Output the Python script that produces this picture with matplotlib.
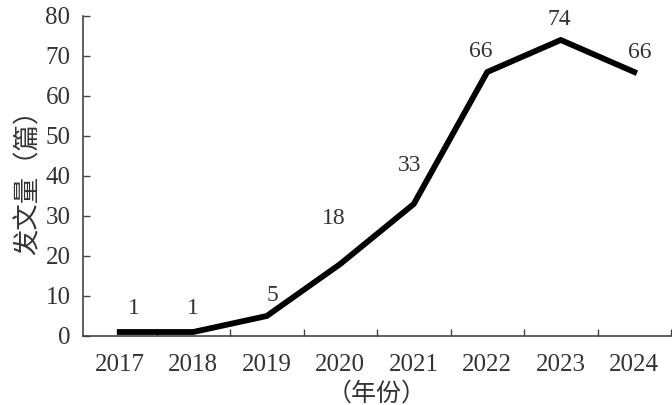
import numpy as np
import matplotlib.pyplot as plt

# data
years  = ["2017", "2018", "2019", "2020", "2021", "2022", "2023", "2024"]
counts = [1, 1, 5, 18, 33, 66, 74, 66]

# label offsets (points), purely placement
lab_dx = [10, 0, 4, -5, -3, -5, -1, 4]
lab_dy = [17, 17, 15, 33, 28, 15, 15, 14]

plt.rcParams['font.family'] = ['Liberation Serif', 'Noto Sans CJK SC']
txtc = '#333333'

fig = plt.figure(figsize=(6.72, 4.05), dpi=100)
ax = fig.add_axes([83/672, 69/405, 588/672, 320/405])

x = np.arange(len(years))
ax.plot(x, counts, color='black', lw=4.2, solid_joinstyle='miter')

for i in range(len(x)):
    ax.annotate(str(counts[i]), (x[i], counts[i]), xytext=(lab_dx[i], lab_dy[i]),
                textcoords='offset points', ha='center', va='center',
                fontsize=17, color=txtc)

ax.set_xlim(-0.5, len(years) - 0.5)
ax.set_ylim(0, 80)
ax.set_yticks(range(0, 81, 10))

# category ticks between the categories, labels in the middle
ax.set_xticks(np.arange(0.5, len(years), 1.0))
ax.set_xticklabels([])
ax.set_xticks(x, minor=True)
ax.set_xticklabels(years, minor=True)
ax.tick_params(axis='x', which='major', direction='in', length=5, width=1, color='#444444')
ax.tick_params(axis='x', which='minor', length=0, pad=13, labelsize=18, labelcolor=txtc)
ax.tick_params(axis='y', direction='in', length=5, width=1, color='#444444',
               pad=9, labelsize=18, labelcolor=txtc)

for s in ['top', 'right']:
    ax.spines[s].set_visible(False)
for s in ['left', 'bottom']:
    ax.spines[s].set_color('#444444')
    ax.spines[s].set_linewidth(1.2)

ax.set_ylabel('发文量（篇）', fontsize=19, color=txtc, labelpad=3,
              family=['Noto Sans CJK SC'])
ax.set_xlabel('（年份）', fontsize=18, color=txtc, labelpad=3,
              family=['Noto Sans CJK SC'])

fig.savefig('out.png', dpi=100)
